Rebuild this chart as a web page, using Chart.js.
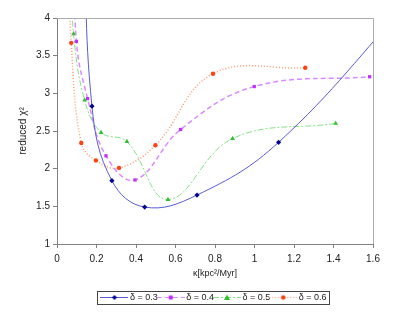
<!DOCTYPE html>
<html>
<head>
<meta charset="UTF-8">
<title>reduced chi2 vs kappa</title>
<script src="https://cdn.jsdelivr.net/npm/chart.js"></script>
<style>
  html, body { margin: 0; padding: 0; background: #fff; }
  #wrap { width: 399px; height: 316px; }
</style>
</head>
<body>
<div id="wrap"><canvas id="grafico" width="399" height="316"></canvas></div>
<script>
  // valores (puntos fuera del rango quedan recortados)
  const kappa03 = [0.135, 0.177, 0.278, 0.444, 0.709, 1.122, 1.80];
  const chi03   = [5.5,   2.83,  1.84,  1.49,  1.65,  2.35,  4.27];

  const kappa04 = [0.092, 0.098, 0.155, 0.248, 0.395, 0.626, 0.999, 1.583];
  const chi04   = [5.0,   3.69,  2.93,  2.17,  1.85,  2.52,  3.09,  3.22];

  const kappa05 = [0.076, 0.084, 0.140, 0.223, 0.354, 0.562, 0.889, 1.411];
  const chi05   = [4.6,   3.79,  2.91,  2.48,  2.36,  1.59,  2.40,  2.60];

  const kappa06 = [0.064, 0.072, 0.123, 0.197, 0.314, 0.498, 0.790, 1.257];
  const chi06   = [4.6,   3.67,  2.34,  2.11,  2.01,  2.31,  3.26,  3.34];

  const etiquetas = ['δ = 0.3', 'δ = 0.4', 'δ = 0.5', 'δ = 0.6'];
  const ticksX = [0, 0.2, 0.4, 0.6, 0.8, 1, 1.2, 1.4, 1.6];
  const ticksY = [1, 1.5, 2, 2.5, 3, 3.5, 4];

  const pares = (xs, ys) => xs.map((x, i) => ({ x: x, y: ys[i] }));

  // muestra de leyenda: línea + marcador (más ancha que la caja de la leyenda)
  const ANCHO_MUESTRA = 28;
  function muestra(color, marca, dash, estilo) {
    const c = document.createElement('canvas');
    c.width = ANCHO_MUESTRA; c.height = 9;
    const g = c.getContext('2d');
    const m = ANCHO_MUESTRA / 2;
    g.strokeStyle = color; g.lineWidth = 1; g.setLineDash(dash);
    g.beginPath(); g.moveTo(0, 4.5); g.lineTo(ANCHO_MUESTRA, 4.5); g.stroke();
    g.fillStyle = marca;
    g.beginPath();
    if (estilo === 'rectRot') { g.moveTo(m, 2); g.lineTo(m + 2.5, 4.5); g.lineTo(m, 7); g.lineTo(m - 2.5, 4.5); }
    else if (estilo === 'rect') { g.rect(m - 2, 2.5, 4, 4); }
    else if (estilo === 'triangle') { g.moveTo(m, 1.5); g.lineTo(m + 3, 7); g.lineTo(m - 3, 7); }
    else { g.arc(m, 4.5, 2.2, 0, Math.PI * 2); }
    g.closePath(); g.fill();
    return c;
  }

  const estilos = [
    { linea: '#5a5ad6', marca: '#000090', dash: [], punto: 'rectRot', r: 2.6, ancho: 1 },
    { linea: '#d98cff', marca: '#c030ff', dash: [5, 3], punto: 'rect', r: 2.3, ancho: 1.5 },
    { linea: '#86e086', marca: '#30c030', dash: [6, 2, 2, 2], punto: 'triangle', r: 2.8, ancho: 1 },
    { linea: '#ff9a70', marca: '#ff4010', dash: [1, 2], punto: 'circle', r: 2.2, ancho: 1.5 }
  ];
  const series = [pares(kappa03, chi03), pares(kappa04, chi04), pares(kappa05, chi05), pares(kappa06, chi06)];
  const muestras = estilos.map(e => muestra(e.linea, e.marca, e.dash, e.punto));

  const datasets = series.map((d, i) => ({
    label: etiquetas[i],
    data: d,
    showLine: true,
    borderColor: estilos[i].linea,
    borderWidth: estilos[i].ancho,
    borderDash: estilos[i].dash,
    backgroundColor: estilos[i].marca,
    pointBackgroundColor: estilos[i].marca,
    pointBorderColor: estilos[i].marca,
    pointBorderWidth: 0,
    pointStyle: estilos[i].punto,
    pointRadius: estilos[i].r,
    tension: 0.4,
    capBezierPoints: false
  }));

  // marco del área de trazado y borde de la leyenda
  const marcos = {
    id: 'marcos',
    afterDatasetsDraw(chart) {
      const a = chart.chartArea, ctx = chart.ctx;
      ctx.save();
      ctx.strokeStyle = '#a8acac'; ctx.lineWidth = 1;
      ctx.beginPath();
      ctx.moveTo(a.left, a.top + 0.5); ctx.lineTo(a.right + 0.5, a.top + 0.5); ctx.lineTo(a.right + 0.5, a.bottom);
      ctx.stroke();
      ctx.restore();
    },
    afterDraw(chart) {
      const cajas = chart.legend.legendHitBoxes;
      if (!cajas || !cajas.length) return;
      const izq = Math.min(...cajas.map(b => b.left)) - 6;
      const der = Math.max(...cajas.map(b => b.left + b.width)) + 3;
      const arr = Math.min(...cajas.map(b => b.top)) - 2;
      const aba = Math.max(...cajas.map(b => b.top + b.height)) + 2;
      const ctx = chart.ctx;
      ctx.save();
      ctx.strokeStyle = '#444'; ctx.lineWidth = 1;
      ctx.strokeRect(Math.round(izq) + 0.5, Math.round(arr) + 0.5, Math.round(der - izq), Math.round(aba - arr));
      ctx.restore();
    }
  };

  const fuente = { family: 'Liberation Sans, Arial, sans-serif', size: 10 };
  const numero = v => String(v);

  new Chart(document.getElementById('grafico'), {
    type: 'scatter',
    data: { datasets: datasets },
    plugins: [marcos],
    options: {
      responsive: false,
      animation: false,
      layout: { padding: { top: 18, right: 26, left: 0, bottom: 4 } },
      plugins: {
        tooltip: { enabled: false },
        legend: {
          position: 'bottom',
          fullSize: false,
          labels: {
            usePointStyle: true,
            pointStyleWidth: 22,
            boxHeight: 9,
            padding: 2,
            color: '#222',
            font: { family: fuente.family, size: 9 },
            generateLabels: chart => chart.data.datasets.map((ds, i) => ({
              text: ds.label,
              pointStyle: muestras[i],
              fontColor: '#222',
              lineWidth: 0,
              strokeStyle: 'transparent',
              fillStyle: 'transparent',
              datasetIndex: i,
              hidden: false
            }))
          }
        }
      },
      scales: {
        x: {
          type: 'linear',
          min: 0, max: 1.6,
          afterBuildTicks: s => { s.ticks = ticksX.map(v => ({ value: v })); },
          afterFit: s => { s.height = 47; },
          ticks: { color: '#222', font: fuente, padding: 5, maxRotation: 0, callback: numero },
          grid: { drawOnChartArea: false, tickLength: 4, color: '#808080' },
          border: { color: '#808080' },
          title: { display: true, text: 'κ[kpc²/Myr]', color: '#222', font: { family: fuente.family, size: 9 }, padding: { top: 0, bottom: 12 } }
        },
        y: {
          type: 'linear',
          min: 1, max: 4,
          afterBuildTicks: s => { s.ticks = ticksY.map(v => ({ value: v })); },
          afterFit: s => { s.width = 57; },
          ticks: { color: '#222', font: fuente, padding: 3, callback: numero },
          grid: { drawOnChartArea: false, tickLength: 4, color: '#808080' },
          border: { color: '#808080' },
          title: { display: true, text: 'reduced χ²', color: '#222', font: { family: fuente.family, size: 10 }, padding: { top: 17, bottom: 0 } }
        }
      }
    }
  });
</script>
</body>
</html>
